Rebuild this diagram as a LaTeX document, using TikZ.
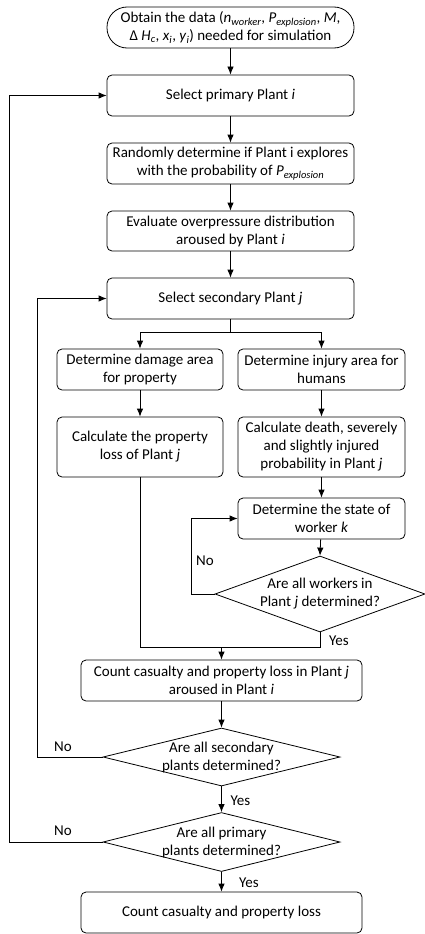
\documentclass[tikz,border=0pt]{standalone}
\usepackage{fontspec}
\setmainfont{Carlito}
\usetikzlibrary{shapes.geometric,arrows.meta}
\newcommand{\sbs}[1]{\textsubscript{\itshape #1}}
\begin{document}
\begin{tikzpicture}[x=1pt,y=1pt,line width=0.8pt,
  txt/.style={font=\fontsize{15}{18}\selectfont},
  box/.style={txt,draw,rounded corners=5pt,align=center,inner sep=0pt},
  term/.style={box,rounded corners=20pt},
  dec/.style={draw,diamond,inner sep=0pt},
  arr/.style={-{Latex[length=8pt,width=6.5pt]}},
  lbl/.style={txt,inner sep=0pt}]
\useasboundingbox (0,0) rectangle (425,-934);
% nodes
\node[term,minimum width=247,minimum height=41] (start) at (230.5,-27.5)
  {Obtain the data (\textit{n}\sbs{worker}, \textit{P}\sbs{explosion}, \textit{M},\\ Δ \textit{H}\sbs{c}, \textit{x}\sbs{i}, \textit{y}\sbs{i}) needed for simulation};
\node[box,minimum width=247,minimum height=41] (prim) at (230.5,-95.5) {Select primary Plant \textit{i}};
\node[box,minimum width=247,minimum height=41] (rand) at (230.5,-163.5)
  {Randomly determine if Plant i explores\\ with the probability of \textit{P}\sbs{explosion}};
\node[box,minimum width=247,minimum height=40] (eval) at (230.5,-231)
  {Evaluate overpressure distribution\\ aroused by Plant \textit{i}};
\node[box,minimum width=247,minimum height=41] (sec) at (230.5,-298.5) {Select secondary Plant \textit{j}};
\node[box,minimum width=166,minimum height=41] (dmg) at (140,-369.5) {Determine damage area\\ for property};
\node[box,minimum width=167,minimum height=41] (inj) at (321.5,-369.5) {Determine injury area for\\ humans};
\node[box,minimum width=166,minimum height=60] (ploss) at (140,-447) {Calculate the property\\ loss of Plant \textit{j}};
\node[box,minimum width=167,minimum height=60] (death) at (321.5,-447)
  {Calculate death, severely\\ and slightly injured\\ probability in Plant \textit{j}};
\node[box,minimum width=167,minimum height=41] (state) at (321.5,-518.5) {Determine the state of\\ worker \textit{k}};
\node[dec,minimum width=210,minimum height=76] (dwork) at (320,-594) {};
\node[txt,align=center,inner sep=0pt] (dworkt) at (dwork) {Are all workers in\\ Plant \textit{j} determined?};
\node[box,minimum width=281,minimum height=41] (cntj) at (221.5,-680.5)
  {Count casualty and property loss in Plant \textit{j}\\ aroused in Plant \textit{i}};
\node[dec,minimum width=237,minimum height=58] (dsec) at (221.5,-757) {};
\node[txt,align=center,inner sep=0pt] (dsect) at (dsec) {Are all secondary\\ plants determined?};
\node[dec,minimum width=237,minimum height=59] (dprim) at (221.5,-842) {};
\node[txt,align=center,inner sep=0pt] (dprimt) at (dprim) {Are all primary\\ plants determined?};
\node[box,minimum width=281,minimum height=41] (fin) at (221.5,-912.5) {Count casualty and property loss};
% coordinates
\coordinate (split) at (230.5,-332);
\coordinate (merge) at (221.5,-647);
% connectors
\draw[arr] (start) -- (prim);
\draw[arr] (prim) -- (rand);
\draw[arr] (rand) -- (eval);
\draw[arr] (eval) -- (sec);
\draw (sec.south) -- (split);
\draw[arr] (split) -| (dmg.north);
\draw[arr] (split) -| (inj.north);
\draw[arr] (dmg) -- (ploss);
\draw[arr] (inj) -- (death);
\draw[arr] (death) -- (state);
\draw[arr] (state) -- (dwork.north);
\draw[arr] (dwork.west) -- ++(-23,0) |- (state.west);
\draw (ploss.south) |- (merge);
\draw (dwork.south) |- (merge);
\draw[arr] (merge) -- (cntj.north);
\draw[arr] (cntj) -- (dsec.north);
\draw[arr] (dsec.west) -- ++(-65,0) |- (sec.west);
\draw[arr] (dsec.south) -- (dprim.north);
\draw[arr] (dprim.west) -- ++(-93,0) |- (prim.west);
\draw[arr] (dprim.south) -- (fin.north);
% labels
\node[lbl] (no1) at (205,-561) {No};
\node[lbl] (yes1) at (339,-641) {Yes};
\node[lbl] (no2) at (63,-747) {No};
\node[lbl] (yes2) at (240.5,-801) {Yes};
\node[lbl] (no3) at (63,-831) {No};
\node[lbl] (yes3) at (249,-883) {Yes};
\end{tikzpicture}
\end{document}
